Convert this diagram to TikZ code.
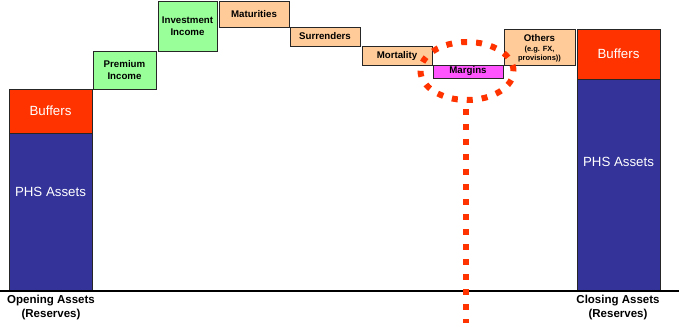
\documentclass[tikz,border=0pt]{standalone}
\usepackage{fontspec}
\setmainfont{Liberation Sans}
\usepackage{tikz}
\usetikzlibrary{shapes.geometric, calc}

\definecolor{buffred}{HTML}{FF3300}
\definecolor{phsblue}{HTML}{333399}
\definecolor{incgreen}{HTML}{99FF99}
\definecolor{outorange}{HTML}{FFCC99}
\definecolor{margpink}{HTML}{FF55FF}

\tikzset{
    bar/.style={draw=black!85, line width=0.9pt},
    big/.style={text=white, font=\fontsize{13.3}{15}\selectfont},
    lbl/.style={font=\fontsize{9.7}{12.5}\selectfont\bfseries, align=center},
    foot/.style={font=\fontsize{11.5}{13.5}\selectfont\bfseries, align=center},
    dots/.style={draw=buffred, line width=6pt, dash pattern=on 6pt off 9pt}
}

\begin{document}
\begin{tikzpicture}[x=1pt, y=-1pt]
        \useasboundingbox (0,0) rectangle (679,323);

        \draw[bar, fill=phsblue] (9,133) rectangle (92,291);
        \draw[bar, fill=buffred] (9,89) rectangle (92,133) node[midway, big] (obuf) {Buffers};
        \node[big] (ophs) at (50.5,192) {PHS Assets};

        \draw[bar, fill=incgreen] (93,51) rectangle (156,89) node[midway, lbl] (prem) {Premium\\Income};
        \draw[bar, fill=incgreen] (158,1) rectangle (217,51) node[midway, lbl] (inv) {Investment\\Income};
        \draw[bar, fill=outorange] (219,1) rectangle (289,27) node[midway, lbl] (mat) {Maturities};
        \draw[bar, fill=outorange] (290,27) rectangle (360,46) node[midway, lbl] (sur) {Surrenders};
        \draw[bar, fill=outorange] (362,46) rectangle (432,65) node[midway, lbl] (mort) {Mortality};
        \draw[bar, fill=margpink] (433,65) rectangle (503,78) node[midway, lbl] (marg) {Margins};
        \draw[bar, fill=outorange] (504,29) rectangle (575,65);
        \node[lbl, font=\fontsize{9.7}{10}\selectfont\bfseries] (oth) at (539.5,38.5) {Others};
        \node[lbl, font=\fontsize{7.5}{8.5}\selectfont\bfseries] (othx) at (539.5,54) {(e.g. FX,\\provisions))};

        \draw[bar, fill=phsblue] (577,79) rectangle (660,291);
        \draw[bar, fill=buffred] (577,29) rectangle (660,79) node[midway, big] (cbuf) {Buffers};
        \node[big] (cphs) at (618.5,162) {PHS Assets};

        \draw[line width=1.4pt] (0,291) -- (679,291);

        \node[foot] (open) at (51,307.5) {Opening Assets\\(Reserves)};
        \node[foot] (close) at (618,307.5) {Closing Assets\\(Reserves)};

        \node[ellipse, dots, minimum width=93pt, minimum height=58pt, inner sep=0pt] (ring) at (467,71) {};
        \coordinate (bot) at (466,323);
        \draw[dots] (ring.south) ++(-1,6) -- (bot);
\end{tikzpicture}
\end{document}
